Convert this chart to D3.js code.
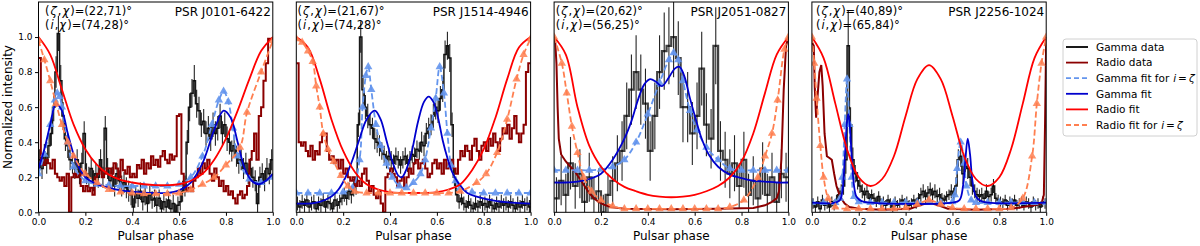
<!DOCTYPE html>
<html><head><meta charset="utf-8">
<script src="https://cdn.jsdelivr.net/npm/d3@7"></script>
<style>body{margin:0;background:#fff}svg{font-family:"DejaVu Sans",sans-serif}</style>
</head><body><svg id="c" width="1200" height="246"></svg>
<script>
// ---------------- DATA ----------------
const phaseTicks=[0,0.2,0.4,0.6,0.8,1.0];
const intensityTicks=[0,0.2,0.4,0.6,0.8,1.0];
const pulsarNames=["PSR J0101-6422","PSR J1514-4946","PSR J2051-0827","PSR J2256-1024"];
const zetaChiValues=["(22,71)","(21,67)","(20,62)","(40,89)"];
const iChiValues=["(74,28)","(74,28)","(56,25)","(65,84)"];
const legendLabels=["Gamma data","Radio data","Gamma fit for ","Gamma fit","Radio fit","Radio fit for "];

// Panel 1: PSR J0101-6422
const gammaData1=[0.3,0.25,0.33,0.28,0.38,0.45,0.6,0.8,1.02,0.75,
0.55,0.42,0.38,0.3,0.28,0.25,0.3,0.22,0.28,0.45,
0.22,0.2,0.25,0.18,0.22,0.2,0.3,0.2,0.48,0.25,
0.18,0.2,0.15,0.22,0.18,0.15,0.17,0.14,0.12,0.1,
0.03,0.1,0.08,0.12,0.06,0.09,0.05,0.1,0.07,0.08,
0.04,0.08,0.02,0.06,0.03,0.07,0.02,0.05,0.0,0.04,
0.06,0.12,0.15,0.4,0.6,0.68,0.75,0.62,0.58,0.5,
0.52,0.45,0.48,0.42,0.5,0.45,0.48,0.55,0.45,0.5,
0.42,0.4,0.35,0.38,0.32,0.28,0.3,0.25,0.28,0.22,
0.25,0.2,0.18,0.05,0.2,0.22,0.18,0.25,0.22,0.3];
const gammaErr1=[0.06,0.06,0.06,0.06,0.07,0.07,0.08,0.09,0.1,0.09,
0.08,0.07,0.07,0.06,0.06,0.06,0.06,0.06,0.06,0.07,
0.06,0.06,0.06,0.06,0.06,0.06,0.06,0.06,0.07,0.06,
0.06,0.06,0.06,0.06,0.06,0.06,0.06,0.06,0.06,0.06,
0.05,0.05,0.05,0.05,0.05,0.05,0.05,0.05,0.05,0.05,
0.05,0.05,0.05,0.05,0.05,0.05,0.05,0.05,0.05,0.05,
0.05,0.06,0.06,0.07,0.08,0.08,0.09,0.08,0.08,0.07,
0.07,0.07,0.07,0.07,0.07,0.07,0.07,0.07,0.07,0.07,
0.07,0.07,0.06,0.06,0.06,0.06,0.06,0.06,0.06,0.06,
0.06,0.06,0.06,0.06,0.06,0.06,0.06,0.06,0.06,0.06];
const radioData1=[0.88,0.3,0.27,0.3,0.28,0.25,0.3,0.22,0.2,0.18,
0.2,0.15,0.22,0.0,0.2,0.22,0.2,0.22,0.15,0.12,
0.15,0.12,0.14,0.1,0.2,0.22,0.24,0.2,0.22,0.25,
0.25,0.22,0.28,0.25,0.2,0.3,0.24,0.22,0.26,0.2,
0.22,0.2,0.27,0.25,0.3,0.22,0.28,0.25,0.32,0.27,
0.3,0.26,0.32,0.35,0.3,0.28,0.33,0.3,0.32,0.55,
0.56,0.22,0.15,0.12,0.14,0.12,0.18,0.2,0.25,0.22,
0.28,0.25,0.3,0.22,0.18,0.25,0.2,0.15,0.18,0.12,
0.15,0.1,0.12,0.08,0.05,0.1,0.12,0.08,0.1,0.15,
0.3,0.35,0.45,0.3,0.55,0.6,0.75,0.85,0.99,0.99];
const gammaFitZ1=[[0,0.22],[0.025,0.33],[0.05,0.5],[0.07,0.64],[0.08,0.68],[0.09,0.66],[0.1,0.6],[0.125,0.4],[0.15,0.26],[0.2,0.18],[0.25,0.16],[0.3,0.155],[0.35,0.15],[0.4,0.15],[0.45,0.15],[0.5,0.15],[0.55,0.15],[0.6,0.16],[0.65,0.2],[0.7,0.32],[0.74,0.5],[0.77,0.64],[0.79,0.69],[0.81,0.63],[0.83,0.48],[0.85,0.32],[0.9,0.19],[0.95,0.17],[1.0,0.2]];
const gammaFit1=[[0,0.25],[0.025,0.36],[0.05,0.5],[0.075,0.62],[0.1,0.58],[0.125,0.45],[0.15,0.33],[0.175,0.25],[0.2,0.2],[0.25,0.16],[0.3,0.14],[0.35,0.125],[0.4,0.118],[0.45,0.112],[0.5,0.11],[0.55,0.11],[0.6,0.125],[0.65,0.17],[0.7,0.28],[0.75,0.47],[0.79,0.58],[0.82,0.54],[0.85,0.4],[0.88,0.25],[0.91,0.18],[0.94,0.16],[0.97,0.18],[1.0,0.22]];
const radioFit1=[[0,1.0],[0.05,0.9],[0.1,0.7],[0.15,0.5],[0.2,0.36],[0.25,0.27],[0.3,0.215],[0.35,0.185],[0.4,0.17],[0.45,0.16],[0.5,0.155],[0.55,0.155],[0.6,0.16],[0.65,0.18],[0.7,0.22],[0.75,0.3],[0.8,0.42],[0.85,0.58],[0.9,0.76],[0.95,0.92],[1.0,1.0]];
const radioFitZ1=[[0,0.98],[0.025,0.87],[0.05,0.75],[0.075,0.62],[0.1,0.5],[0.125,0.4],[0.15,0.32],[0.2,0.22],[0.25,0.17],[0.3,0.13],[0.35,0.115],[0.4,0.11],[0.45,0.105],[0.5,0.105],[0.55,0.105],[0.6,0.11],[0.65,0.13],[0.7,0.16],[0.75,0.2],[0.8,0.27],[0.86,0.37],[0.89,0.57],[0.95,0.8],[1.0,0.98]];

// Panel 2: PSR J1514-4946
const gammaData2=[0.05,0.03,0.06,0.04,0.07,0.03,0.05,0.06,0.02,0.05,
0.04,0.07,0.03,0.06,0.05,0.02,0.07,0.04,0.06,0.08,
0.1,0.08,0.12,0.1,0.14,0.15,0.5,1.0,0.7,0.6,
0.55,0.5,0.48,0.42,0.4,0.38,0.35,0.33,0.3,0.32,
0.3,0.28,0.32,0.3,0.27,0.3,0.32,0.28,0.3,0.33,
0.32,0.36,0.35,0.4,0.38,0.45,0.48,0.5,0.55,0.6,
0.58,0.65,0.7,0.9,0.95,0.88,0.5,0.2,0.1,0.06,
0.08,0.05,0.03,0.06,0.04,0.02,0.05,0.03,0.06,0.04,
0.05,0.03,0.06,0.04,0.02,0.05,0.03,0.06,0.04,0.05,
0.03,0.06,0.04,0.02,0.05,0.03,0.06,0.04,0.05,0.03];
const gammaErr2=[0.04,0.04,0.04,0.04,0.04,0.04,0.04,0.04,0.04,0.04,
0.04,0.04,0.04,0.04,0.04,0.04,0.04,0.04,0.04,0.04,
0.04,0.04,0.05,0.05,0.05,0.05,0.07,0.09,0.08,0.07,
0.07,0.06,0.06,0.06,0.06,0.06,0.05,0.05,0.05,0.05,
0.05,0.05,0.05,0.05,0.05,0.05,0.05,0.05,0.05,0.05,
0.05,0.05,0.05,0.06,0.06,0.06,0.06,0.06,0.07,0.07,
0.07,0.07,0.07,0.08,0.08,0.08,0.07,0.05,0.04,0.04,
0.04,0.04,0.04,0.04,0.04,0.04,0.04,0.04,0.04,0.04,
0.04,0.04,0.04,0.04,0.04,0.04,0.04,0.04,0.04,0.04,
0.04,0.04,0.04,0.04,0.04,0.04,0.04,0.04,0.04,0.04];
const radioData2=[0.85,0.4,0.38,0.4,0.35,0.32,0.38,0.3,0.35,0.33,
0.4,0.45,0.45,0.35,0.3,0.32,0.28,0.3,0.25,0.3,
0.22,0.25,0.2,0.18,0.2,0.15,0.18,0.15,0.22,0.25,
0.18,0.12,0.15,0.1,0.08,0.12,0.05,0.0,0.2,0.22,
0.25,0.22,0.2,0.15,0.18,0.2,0.15,0.2,0.25,0.22,
0.28,0.3,0.25,0.28,0.3,0.25,0.2,0.22,0.28,0.3,
0.25,0.28,0.22,0.3,0.25,0.28,0.3,0.25,0.22,0.3,
0.35,0.32,0.38,0.35,0.3,0.38,0.42,0.35,0.3,0.38,
0.4,0.35,0.42,0.38,0.45,0.4,0.35,0.42,0.48,0.45,
0.5,0.42,0.48,0.55,0.45,0.4,0.45,0.5,0.8,0.85];
const gammaFitZ2=[[0,0.11],[0.05,0.11],[0.1,0.11],[0.15,0.11],[0.2,0.115],[0.24,0.14],[0.27,0.3],[0.283,0.6],[0.297,0.78],[0.307,0.83],[0.32,0.7],[0.34,0.5],[0.36,0.38],[0.385,0.28],[0.41,0.2],[0.44,0.15],[0.47,0.14],[0.5,0.17],[0.53,0.22],[0.55,0.3],[0.575,0.48],[0.595,0.65],[0.612,0.83],[0.63,0.68],[0.645,0.45],[0.66,0.27],[0.68,0.18],[0.7,0.14],[0.75,0.115],[0.8,0.11],[0.85,0.11],[0.9,0.11],[0.95,0.11],[1.0,0.11]];
const gammaFit2=[[0,0.05],[0.05,0.05],[0.1,0.06],[0.15,0.09],[0.18,0.13],[0.21,0.2],[0.24,0.3],[0.27,0.42],[0.3,0.53],[0.335,0.58],[0.36,0.53],[0.385,0.41],[0.41,0.29],[0.435,0.21],[0.45,0.2],[0.465,0.23],[0.49,0.33],[0.52,0.52],[0.545,0.63],[0.565,0.66],[0.585,0.63],[0.605,0.54],[0.625,0.41],[0.645,0.31],[0.665,0.23],[0.69,0.17],[0.73,0.11],[0.77,0.09],[0.85,0.065],[0.92,0.055],[1.0,0.05]];
const radioFit2=[[0,1.0],[0.05,0.94],[0.1,0.76],[0.15,0.53],[0.2,0.35],[0.25,0.23],[0.3,0.16],[0.35,0.13],[0.4,0.115],[0.5,0.11],[0.6,0.115],[0.65,0.13],[0.7,0.16],[0.75,0.24],[0.8,0.36],[0.85,0.54],[0.9,0.76],[0.95,0.94],[1.0,1.0]];
const radioFitZ2=[[0,0.99],[0.025,0.97],[0.05,0.92],[0.07,0.86],[0.085,0.72],[0.1,0.6],[0.115,0.45],[0.135,0.36],[0.16,0.29],[0.19,0.21],[0.22,0.15],[0.25,0.12],[0.3,0.11],[0.35,0.11],[0.4,0.11],[0.45,0.11],[0.5,0.11],[0.55,0.11],[0.6,0.11],[0.65,0.11],[0.7,0.12],[0.77,0.17],[0.81,0.22],[0.857,0.34],[0.9,0.53],[0.94,0.76],[0.97,0.9],[1.0,0.99]];

// Panel 3: PSR J2051-0827
const gammaData3=[0.08,0.18,0.1,0.28,0.15,0.22,0.06,0.2,0.08,0.12,
0.0,0.1,0.18,0.28,0.35,0.55,0.7,0.8,0.7,0.62,
0.35,0.55,0.8,0.92,0.95,1.0,0.88,0.6,0.6,0.45,
0.55,0.82,0.5,0.42,0.95,0.35,0.3,0.22,0.28,0.15,
0.3,0.1,0.18,0.08,0.25,0.1,0.2,0.06,0.22,0.2];
const gammaErr3=[0.12,0.14,0.12,0.15,0.13,0.14,0.11,0.14,0.12,0.13,
0.1,0.12,0.14,0.16,0.17,0.19,0.2,0.21,0.2,0.2,
0.17,0.19,0.21,0.22,0.22,0.23,0.21,0.2,0.2,0.18,
0.19,0.21,0.18,0.17,0.22,0.17,0.16,0.14,0.16,0.13,
0.16,0.12,0.14,0.12,0.15,0.12,0.14,0.11,0.14,0.14];
const radioData3=[[0,1.0],[0.005,0.97],[0.01,0.85],[0.015,0.6],[0.02,0.42],[0.03,0.33],[0.05,0.29],[0.07,0.26],[0.09,0.23],[0.11,0.19],[0.13,0.15],[0.15,0.11],[0.17,0.08],[0.19,0.06],[0.21,0.045],[0.24,0.03],[0.3,0.02],[0.5,0.018],[0.7,0.02],[0.85,0.025],[0.9,0.04],[0.93,0.06],[0.95,0.08],[0.96,0.12],[0.97,0.3],[0.98,0.7],[0.99,0.95],[1.0,1.0]];
const gammaFitZ3=[[0,0.24],[0.05,0.24],[0.1,0.24],[0.15,0.24],[0.2,0.245],[0.25,0.26],[0.3,0.3],[0.35,0.4],[0.4,0.56],[0.45,0.74],[0.49,0.87],[0.51,0.91],[0.53,0.87],[0.55,0.75],[0.58,0.58],[0.61,0.47],[0.65,0.37],[0.7,0.3],[0.75,0.25],[0.8,0.24],[0.85,0.24],[0.9,0.24],[0.95,0.24],[1.0,0.24]];
const gammaFit3=[[0,0.17],[0.05,0.17],[0.1,0.175],[0.15,0.19],[0.2,0.22],[0.25,0.3],[0.3,0.42],[0.33,0.52],[0.36,0.65],[0.385,0.73],[0.41,0.76],[0.435,0.745],[0.46,0.72],[0.49,0.77],[0.515,0.82],[0.535,0.83],[0.555,0.78],[0.58,0.65],[0.605,0.53],[0.63,0.42],[0.66,0.33],[0.7,0.26],[0.75,0.215],[0.8,0.195],[0.85,0.18],[0.9,0.175],[0.95,0.17],[1.0,0.17]];
const radioFit3=[[0,1.0],[0.05,0.9],[0.1,0.6],[0.15,0.38],[0.2,0.26],[0.25,0.19],[0.3,0.145],[0.35,0.12],[0.4,0.1],[0.45,0.09],[0.5,0.086],[0.55,0.09],[0.6,0.1],[0.65,0.12],[0.7,0.15],[0.75,0.2],[0.8,0.29],[0.85,0.45],[0.9,0.68],[0.95,0.9],[1.0,1.0]];
const radioFitZ3=[[0,1.0],[0.033,0.85],[0.054,0.68],[0.076,0.49],[0.1,0.34],[0.126,0.2],[0.16,0.12],[0.2,0.07],[0.25,0.035],[0.3,0.02],[0.35,0.02],[0.4,0.02],[0.45,0.02],[0.5,0.02],[0.55,0.02],[0.6,0.02],[0.65,0.02],[0.7,0.02],[0.75,0.03],[0.81,0.07],[0.87,0.2],[0.9,0.32],[0.93,0.45],[0.954,0.64],[0.983,0.93],[1.0,1.0]];

// Panel 4: PSR J2256-1024
const gammaData4=[0.05,0.03,0.06,0.02,0.07,0.04,0.05,0.03,0.06,0.04,
0.07,0.1,0.12,0.15,0.3,0.95,0.5,0.3,0.22,0.18,
0.15,0.12,0.1,0.12,0.08,0.1,0.08,0.06,0.09,0.05,
0.06,0.04,0.07,0.05,0.03,0.06,0.04,0.05,0.07,0.05,
0.06,0.04,0.05,0.07,0.05,0.08,0.1,0.12,0.09,0.11,
0.13,0.1,0.12,0.09,0.1,0.08,0.07,0.09,0.1,0.12,
0.1,0.15,0.3,0.32,0.22,0.28,0.25,0.2,0.15,0.12,
0.1,0.09,0.1,0.08,0.12,0.09,0.1,0.15,0.08,0.07,
0.06,0.05,0.07,0.04,0.06,0.05,0.07,0.04,0.05,0.06,
0.04,0.06,0.05,0.03,0.06,0.04,0.05,0.03,0.06,0.05];
const gammaErr4=[0.03,0.03,0.03,0.03,0.03,0.03,0.03,0.03,0.03,0.03,
0.03,0.04,0.04,0.05,0.08,0.2,0.1,0.07,0.05,0.05,
0.04,0.04,0.04,0.04,0.03,0.03,0.03,0.03,0.03,0.03,
0.03,0.03,0.03,0.03,0.03,0.03,0.03,0.03,0.03,0.03,
0.03,0.03,0.03,0.03,0.03,0.03,0.04,0.04,0.04,0.04,
0.04,0.04,0.04,0.04,0.04,0.03,0.03,0.03,0.03,0.04,
0.04,0.05,0.06,0.06,0.06,0.06,0.06,0.05,0.05,0.04,
0.04,0.04,0.04,0.03,0.04,0.03,0.04,0.04,0.03,0.03,
0.03,0.03,0.03,0.03,0.03,0.03,0.03,0.03,0.03,0.03,
0.03,0.03,0.03,0.03,0.03,0.03,0.03,0.03,0.03,0.03];
const radioData4=[[0,0.97],[0.008,0.95],[0.012,0.72],[0.018,0.54],[0.024,0.66],[0.032,0.8],[0.04,0.84],[0.046,0.72],[0.054,0.45],[0.064,0.32],[0.075,0.31],[0.085,0.3],[0.095,0.22],[0.105,0.15],[0.12,0.09],[0.14,0.05],[0.16,0.03],[0.2,0.02],[0.3,0.015],[0.42,0.02],[0.46,0.04],[0.5,0.055],[0.54,0.04],[0.58,0.02],[0.7,0.015],[0.85,0.02],[0.9,0.03],[0.95,0.04],[0.98,0.05],[0.99,0.1],[0.995,0.5],[1.0,1.0]];
const gammaFitZ4=[[0,0.055],[0.05,0.055],[0.1,0.056],[0.12,0.08],[0.13,0.2],[0.14,0.5],[0.15,0.76],[0.16,0.5],[0.17,0.2],[0.18,0.09],[0.2,0.06],[0.25,0.055],[0.3,0.055],[0.35,0.055],[0.4,0.055],[0.45,0.055],[0.5,0.055],[0.55,0.055],[0.6,0.06],[0.61,0.1],[0.62,0.25],[0.635,0.4],[0.65,0.28],[0.66,0.15],[0.68,0.07],[0.7,0.055],[0.75,0.055],[0.8,0.055],[0.85,0.055],[0.9,0.055],[0.95,0.055],[1.0,0.055]];
const gammaFit4=[[0,0.055],[0.1,0.055],[0.12,0.07],[0.13,0.12],[0.14,0.3],[0.15,0.52],[0.155,0.56],[0.16,0.52],[0.17,0.32],[0.18,0.15],[0.19,0.09],[0.21,0.065],[0.25,0.055],[0.6,0.055],[0.63,0.07],[0.645,0.15],[0.655,0.3],[0.665,0.42],[0.675,0.33],[0.685,0.18],[0.7,0.09],[0.72,0.065],[0.75,0.055],[1.0,0.055]];
const radioFit4=[[0,1.0],[0.05,0.88],[0.1,0.62],[0.15,0.36],[0.2,0.2],[0.25,0.15],[0.3,0.19],[0.35,0.32],[0.4,0.55],[0.45,0.76],[0.5,0.84],[0.55,0.76],[0.6,0.55],[0.65,0.32],[0.7,0.19],[0.75,0.15],[0.8,0.2],[0.85,0.36],[0.9,0.62],[0.95,0.88],[1.0,1.0]];
const radioFitZ4=[[0,1.0],[0.01,0.85],[0.02,0.65],[0.036,0.38],[0.05,0.2],[0.07,0.08],[0.1,0.03],[0.15,0.02],[0.2,0.02],[0.25,0.02],[0.3,0.02],[0.35,0.02],[0.4,0.025],[0.45,0.045],[0.5,0.07],[0.55,0.045],[0.6,0.025],[0.65,0.02],[0.7,0.02],[0.75,0.02],[0.8,0.02],[0.85,0.025],[0.9,0.08],[0.94,0.32],[0.96,0.62],[0.98,0.85],[1.0,1.0]];

// ---------------- LAYOUT / STYLE ----------------
const panels=[
 {g:gammaData1,ge:gammaErr1,r:radioData1,gfz:gammaFitZ1,gf:gammaFit1,rf:radioFit1,rfz:radioFitZ1},
 {g:gammaData2,ge:gammaErr2,r:radioData2,gfz:gammaFitZ2,gf:gammaFit2,rf:radioFit2,rfz:radioFitZ2},
 {g:gammaData3,ge:gammaErr3,rl:radioData3,gfz:gammaFitZ3,gf:gammaFit3,rf:radioFit3,rfz:radioFitZ3},
 {g:gammaData4,ge:gammaErr4,rl:radioData4,gfz:gammaFitZ4,gf:gammaFit4,rf:radioFit4,rfz:radioFitZ4}
];
const annotDx=[6.5,1.3,1.7,4];
const C={gamma:"#000",radio:"#8b0000",gfz:"#6495ed",gf:"#0000cd",rf:"#ff0000",rfz:"#ff7f50"};
const L0=38.5, PW=234.3, GAP=23.5, TOP=2, BOT=212.3;

const svg=d3.select("#c");
const y=d3.scaleLinear().domain([0,1.2]).range([BOT,TOP]);

function mixedText(sel,segs){
  segs.forEach(s=>{
    const ts=sel.append("tspan").text(s.t);
    if(s.it) ts.attr("font-style","italic");
    if(s.dx) ts.attr("dx",s.dx);
  });
  return sel;
}

panels.forEach((p,k)=>{
  const left=L0+k*(PW+GAP);
  const x=d3.scaleLinear().domain([0,1]).range([left,left+PW]);
  const cid="clip"+k;
  svg.append("clipPath").attr("id",cid).append("rect")
    .attr("x",left).attr("y",TOP).attr("width",PW).attr("height",BOT-TOP);
  const g=svg.append("g").attr("clip-path",`url(#${cid})`);
  const stepLine=d3.line().x(d=>x(d[0])).y(d=>y(d[1])).curve(d3.curveStepAfter);
  const smooth=d3.line().x(d=>x(d[0])).y(d=>y(d[1])).curve(d3.curveCatmullRom.alpha(0.5));
  const lin=d3.line().x(d=>x(d[0])).y(d=>y(d[1]));
  const toSteps=arr=>{const n=arr.length;const pts=arr.map((v,i)=>[i/n,v]);pts.push([1,arr[n-1]]);return pts;};

  const n=p.g.length;
  g.append("g").selectAll("line").data(p.g).join("line")
    .attr("x1",(d,i)=>x((i+0.5)/n)).attr("x2",(d,i)=>x((i+0.5)/n))
    .attr("y1",(d,i)=>y(d-p.ge[i])).attr("y2",(d,i)=>y(d+p.ge[i]))
    .attr("stroke",C.gamma).attr("stroke-width",1.1).attr("opacity",0.85);
  g.append("path").attr("d",stepLine(toSteps(p.g))).attr("fill","none")
    .attr("stroke",C.gamma).attr("stroke-width",k===2?2.2:1.5).attr("opacity",k===2?0.75:0.9);
  if(p.r) g.append("path").attr("d",stepLine(toSteps(p.r))).attr("fill","none")
    .attr("stroke",C.radio).attr("stroke-width",2);
  else g.append("path").attr("d",lin(p.rl)).attr("fill","none")
    .attr("stroke",C.radio).attr("stroke-width",2);
  g.append("path").attr("d",smooth(p.gfz)).attr("fill","none")
    .attr("stroke",C.gfz).attr("stroke-width",1.8).attr("stroke-dasharray","6,3");
  g.append("g").selectAll("path").data(p.gfz).join("path")
    .attr("d",d3.symbol(d3.symbolTriangle,30)())
    .attr("transform",d=>`translate(${x(d[0])},${y(d[1])})`)
    .attr("fill",C.gfz).attr("opacity",0.9);
  g.append("path").attr("d",smooth(p.gf)).attr("fill","none")
    .attr("stroke",C.gf).attr("stroke-width",1.8);
  g.append("path").attr("d",smooth(p.rf)).attr("fill","none")
    .attr("stroke",C.rf).attr("stroke-width",1.8);
  g.append("path").attr("d",smooth(p.rfz)).attr("fill","none")
    .attr("stroke",C.rfz).attr("stroke-width",1.8).attr("stroke-dasharray","6,3");
  g.append("g").selectAll("path").data(p.rfz).join("path")
    .attr("d",d3.symbol(d3.symbolTriangle,30)())
    .attr("transform",d=>`translate(${x(d[0])},${y(d[1])})`)
    .attr("fill",C.rfz).attr("opacity",0.85);

  svg.append("rect").attr("x",left).attr("y",TOP).attr("width",PW).attr("height",BOT-TOP)
    .attr("fill","none").attr("stroke","#000").attr("stroke-width",1);

  const xa=svg.append("g").attr("transform",`translate(0,${BOT})`)
    .call(d3.axisBottom(x).tickValues(phaseTicks).tickFormat(d3.format(".1f")).tickSize(3.5).tickPadding(2.5));
  xa.select(".domain").remove();
  xa.selectAll("text").attr("font-size",9).attr("font-family","DejaVu Sans").attr("fill","#000");
  svg.append("text").attr("x",left+PW/2).attr("y",240).attr("text-anchor","middle")
    .attr("font-size",12).text("Pulsar phase");

  if(k===0){
    const ya=svg.append("g").attr("transform",`translate(${left},0)`)
      .call(d3.axisLeft(y).tickValues(intensityTicks).tickFormat(d3.format(".1f")).tickSize(3.5).tickPadding(2.5));
    ya.select(".domain").remove();
    ya.selectAll("text").attr("font-size",9).attr("font-family","DejaVu Sans").attr("fill","#000");
  }

  mixedText(svg.append("text").attr("x",left+annotDx[k]).attr("y",15).attr("font-size",11.5),
    [{t:"("},{t:"ζ",it:true,dx:1},{t:",",dx:1},{t:"χ",it:true,dx:1},{t:")="+zetaChiValues[k]+"°",dx:1}]);
  mixedText(svg.append("text").attr("x",left+annotDx[k]).attr("y",28.6).attr("font-size",11.5),
    [{t:"("},{t:"i",it:true,dx:1},{t:",",dx:1},{t:"χ",it:true,dx:1},{t:")="+iChiValues[k]+"°",dx:1}]);
  svg.append("text").attr("x",left+PW-2).attr("y",15.5).attr("text-anchor","end")
    .attr("font-size",12).text(pulsarNames[k]);
});

svg.append("text").attr("transform","translate(12,107) rotate(-90)").attr("text-anchor","middle")
  .attr("font-size",12).text("Normalized intensity");

const lg=svg.append("g");
lg.append("rect").attr("x",1063).attr("y",39).attr("width",134).attr("height",97).attr("rx",3)
  .attr("fill","#fff").attr("stroke","#d0d0d0").attr("stroke-width",1);
const legStyles=[
 {c:C.gamma,dash:null},{c:C.radio,dash:null},{c:C.gfz,dash:"5,3"},
 {c:C.gf,dash:null},{c:C.rf,dash:null},{c:C.rfz,dash:"5,3"}];
legendLabels.forEach((lab,i)=>{
  const yy=47+i*15.6;
  lg.append("line").attr("x1",1066).attr("x2",1088).attr("y1",yy).attr("y2",yy)
    .attr("stroke",legStyles[i].c).attr("stroke-width",1.8)
    .attr("stroke-dasharray",legStyles[i].dash);
  const t=lg.append("text").attr("x",1096).attr("y",yy+3.8).attr("font-size",10.5);
  if(i===2||i===5) mixedText(t,[{t:lab},{t:"i",it:true,dx:0.5},{t:"=",dx:2},{t:"ζ",it:true,dx:2}]);
  else t.text(lab);
});
</script></body></html>
